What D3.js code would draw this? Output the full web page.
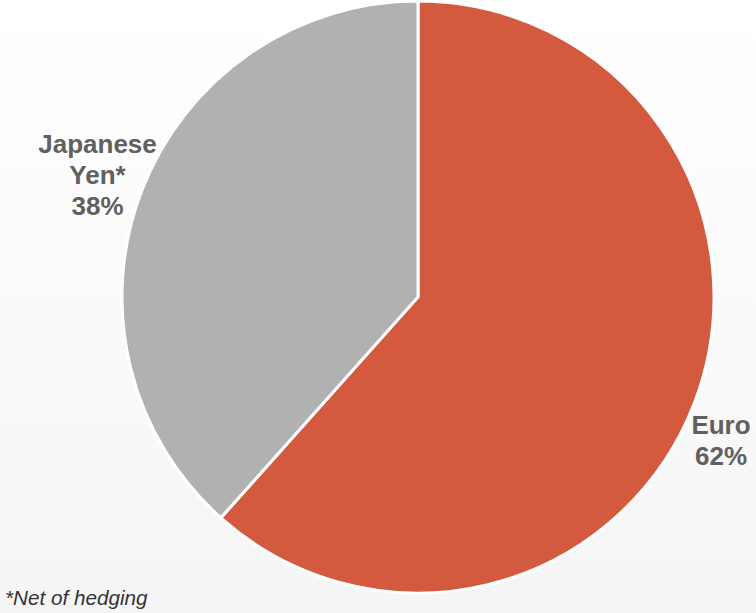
<!DOCTYPE html>
<html><head><meta charset="utf-8">
<script src="https://cdn.jsdelivr.net/npm/d3@7"></script>
<style>html,body{margin:0;padding:0;overflow:hidden;}</style>
</head><body>
<svg id="chart" width="756" height="613"></svg>
<script>
const categories = ["Euro", "Japanese Yen*"];
const labelLines = [["Euro"], ["Japanese", "Yen*"]];
const values = [61.6, 38.4];
const colors = ["#D35A3E", "#B1B1B1"];
const footnote = "*Net of hedging";

const svg = d3.select("#chart");
const defs = svg.append("defs");
const grad = defs.append("linearGradient").attr("id","bg").attr("x1",0).attr("y1",0).attr("x2",0).attr("y2",1);
grad.append("stop").attr("offset","0%").attr("stop-color","#ffffff");
grad.append("stop").attr("offset","100%").attr("stop-color","#f5f5f5");
svg.append("rect").attr("width",756).attr("height",613).attr("fill","url(#bg)");

const cx = 418, cy = 297, r = 296;
const pie = d3.pie().sort(null).value(d => d)(values);
const arc = d3.arc().innerRadius(0).outerRadius(r);
const g = svg.append("g").attr("transform", `translate(${cx},${cy})`);
g.selectAll("path").data(pie).join("path")
  .attr("d", arc)
  .attr("fill", (d,i) => colors[i])
  .attr("stroke", "#ffffff")
  .attr("stroke-width", 3)
  .attr("stroke-linejoin", "miter");

const labelPos = [[721, 434], [97.5, 153]];
labelLines.forEach((lines, i) => {
  const t = svg.append("text")
    .attr("text-anchor","middle")
    .attr("font-family","Liberation Sans, Arial, sans-serif")
    .attr("font-weight","bold")
    .attr("font-size",26)
    .attr("fill","#606060");
  const all = lines.concat([Math.round(values[i]) + "%"]);
  all.forEach((ln, j) => {
    t.append("tspan").attr("x", labelPos[i][0]).attr("y", labelPos[i][1] + j*31).text(ln);
  });
});

svg.append("text")
  .attr("x", 5).attr("y", 605)
  .attr("font-family","Liberation Sans, Arial, sans-serif")
  .attr("font-style","italic")
  .attr("font-size",20.7)
  .attr("fill","#333333")
  .text(footnote);
</script>
</body></html>
